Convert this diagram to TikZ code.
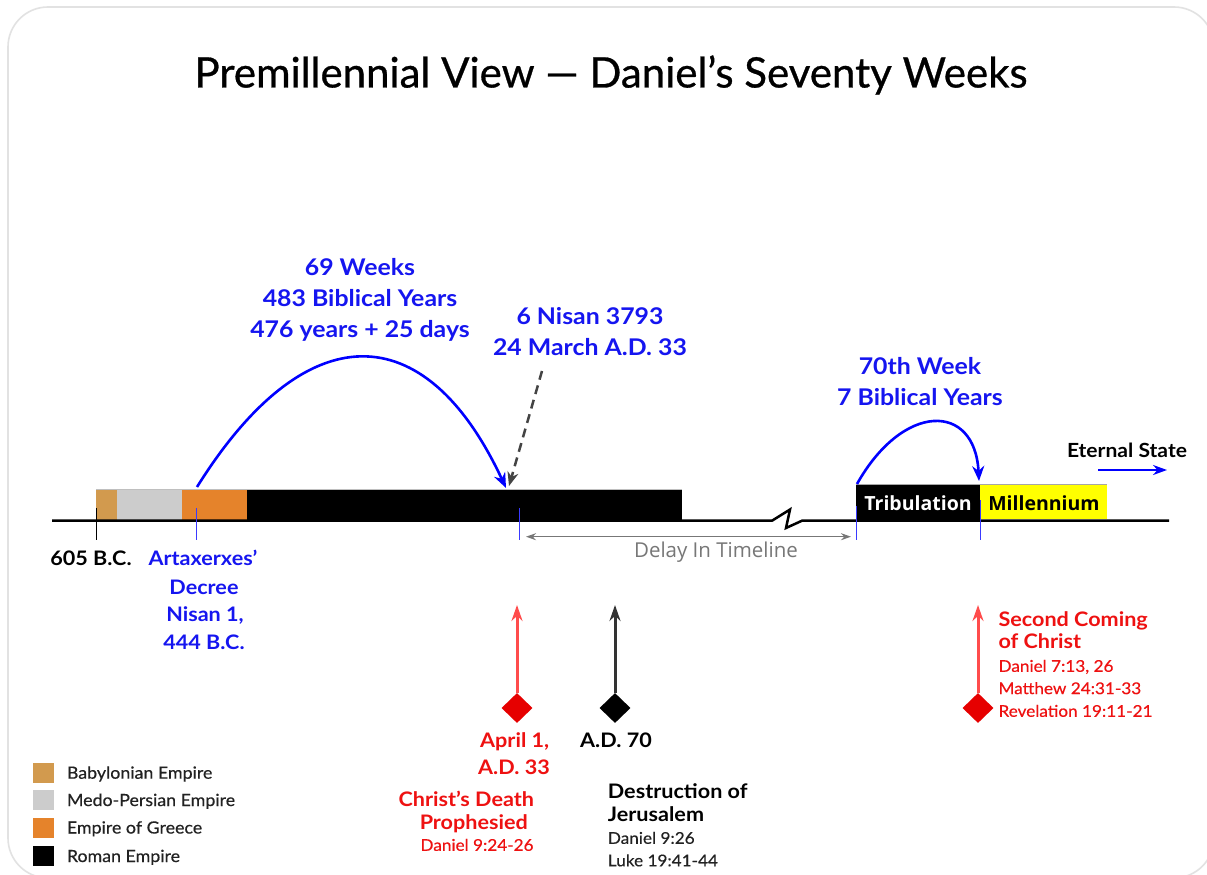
\documentclass[tikz,border=0pt]{standalone}
\usepackage{fontspec}
\setmainfont{Lato}[FakeStretch=1.08]
\newfontfamily\titlefont{Lato}[FakeBold=0.7]
\newfontfamily\refsfont{Lato}[FakeStretch=1.06,FakeBold=0.4]
\newfontfamily\osans{Open Sans}
\usetikzlibrary{arrows.meta,shapes.geometric}
\definecolor{babyl}{HTML}{D29A4E}
\definecolor{medo}{HTML}{CCCCCC}
\definecolor{greece}{HTML}{E5832B}
\definecolor{tblue}{HTML}{1515F0}
\definecolor{ablue}{HTML}{0000FF}
\definecolor{tickblue}{HTML}{3A3AFF}
\definecolor{tred}{HTML}{EE1111}
\definecolor{lred}{HTML}{FF4C4C}
\definecolor{dred}{HTML}{E60000}
\definecolor{bordergrey}{HTML}{E2E2E2}
\definecolor{delaygrey}{HTML}{777777}
\definecolor{dashgrey}{HTML}{444444}
\definecolor{darkarrow}{HTML}{333333}
\definecolor{legtext}{HTML}{222222}
\definecolor{mill}{HTML}{FFFF00}
\begin{document}
\begin{tikzpicture}[x=1pt,y=-1pt,
  bigblue/.style={font=\fontsize{23}{31}\selectfont\bfseries, text=tblue, text height=16.5pt, text depth=0pt, inner sep=0},
  lbl/.style={font=\fontsize{20}{27}\selectfont\bfseries, text height=14.3pt, text depth=0pt, inner sep=0},
  refs/.style={font=\refsfont\fontsize{16.2}{22}\selectfont, text height=11.6pt, text depth=0pt, inner sep=0},
  tick/.style={line width=1},
  bigarrow/.style={line width=2.6, -{Stealth[length=15pt,width=12pt]}},
  uparrow/.style={line width=3, -{Stealth[length=16pt,width=11pt]}},
  diam/.style={diamond, minimum width=31pt, minimum height=30pt, inner sep=0, draw=none},
  legbox/.style={minimum width=21pt, minimum height=20pt, inner sep=0},
  legtxt/.style={font=\refsfont\fontsize{16.8}{18}\selectfont, text=legtext, anchor=west, text height=12pt, text depth=0pt, inner sep=0},
  boxtxt/.style={font=\osans\fontsize{19.5}{22}\selectfont\bfseries, text height=14pt, text depth=0pt, inner sep=0},
]
\useasboundingbox (0,0) rectangle (1207,875);
\fill[white] (0,0) rectangle (1207,875);
\begin{scope}
  \clip (0,0) rectangle (1207,875);
  \draw[bordergrey, line width=1.6, rounded corners=40pt] (8,7) rectangle (1214,878);
\end{scope}

% title
\node[font=\titlefont\fontsize{42}{50}\selectfont, text height=30pt, text depth=0pt, inner sep=0] (title) at (611,72.5) {Premillennial View — Daniel’s Seventy Weeks};

% empire bars
\fill[babyl] (96,489) rectangle (117,520);
\fill[medo] (117,489) rectangle (182,520);
\fill[greece] (182,489) rectangle (247,520);
\fill[black] (247,489) rectangle (682,520);
\draw[black!25, line width=0.6] (96,489) -- (682,489);

% tribulation / millennium
\fill[black] (856,484) rectangle (980,520);
\fill[mill] (980,484) rectangle (1107,519);
\draw[black!35, line width=0.6] (856,484) -- (1107,484);
\node[boxtxt, text=white] (trib) at (918,503.7) {Tribulation};
\node[boxtxt, text=black] (millen) at (1044,503.7) {Millennium};

% axis with break
\draw[line width=2.5] (52,520.7) -- (772,520.7) -- (790,509.5) -- (786,528) -- (802,520.7) -- (1169,520.7);

% ticks
\draw[tick, black] (96.7,508) -- (96.7,540);
\draw[tick, tickblue] (196,508) -- (196,540);
\draw[tick, tickblue] (519,508) -- (519,540);
\draw[tick, tickblue] (856,506) -- (856,540);
\draw[tick, tickblue] (980,500) -- (980,540);

% delay arrow
\coordinate (dl) at (526,536.7);
\coordinate (dr) at (851,536.7);
\draw[delaygrey, line width=1.5, {Stealth[length=10pt,width=7pt]}-{Stealth[length=10pt,width=7pt]}] (dl) -- (dr);
\node[font=\osans\fontsize{20.5}{24}\selectfont, text=delaygrey, text height=14.6pt, text depth=0pt, inner sep=0] (delay) at (716,550.5) {Delay In Timeline};

% arcs
\coordinate (a1) at (197,487);
\coordinate (a2) at (506,488);
\draw[ablue, bigarrow] (a1) .. controls (305,314) and (425,314) .. (a2);
\coordinate (b1) at (857,484);
\coordinate (b2) at (979,481);
\draw[ablue, bigarrow] (b1) .. controls (903,402) and (975,402) .. (b2);

% dashed arrow
\coordinate (ds) at (542,371);
\coordinate (de) at (509,486);
\draw[dashgrey, line width=2.5, dash pattern=on 9pt off 6pt, -{Stealth[length=14pt,width=11pt]}] (ds) -- (de);

% eternal state
\node[font=\fontsize{19.5}{22}\selectfont\bfseries, text height=14pt, text depth=0pt, inner sep=0] (eternal) at (1127,450.5) {Eternal State};
\coordinate (es1) at (1098,470);
\coordinate (es2) at (1167,470);
\draw[ablue, line width=2.2, -{Stealth[length=14pt,width=10pt]}] (es1) -- (es2);

% blue upper labels
\node[bigblue] (w1) at (360,267) {69 Weeks};
\node[bigblue] (w2) at (360,298) {483 Biblical Years};
\node[bigblue] (w3) at (360,329.5) {476 years + 25 days};
\node[bigblue] (n1) at (590,316) {6 Nisan 3793};
\node[bigblue] (n2) at (590,347) {24 March A.D. 33};
\node[bigblue] (s1) at (920,366.7) {70th Week};
\node[bigblue] (s2) at (920,397.5) {7 Biblical Years};

% lower-left labels
\node[lbl] (bc605) at (91,558.7) {605 B.C.};
\node[lbl, text=tblue] (ax1) at (203,558.7) {Artaxerxes’};
\node[lbl, text=tblue] (ax2) at (204,587) {Decree};
\node[lbl, text=tblue] (ax3) at (205,614.5) {Nisan 1,};
\node[lbl, text=tblue] (ax4) at (204,642) {444 B.C.};

% diamonds and up arrows
\node[diam, fill=dred] (d1) at (517,708) {};
\coordinate (t1) at (517,605);
\draw[lred, uparrow] (d1.north) -- (t1);
\node[diam, fill=black] (d2) at (615,708) {};
\coordinate (t2) at (615,605);
\draw[darkarrow, uparrow] (d2.north) -- (t2);
\node[diam, fill=dred] (d3) at (978,708) {};
\coordinate (t3) at (978,605);
\draw[lred, uparrow] (d3.north) -- (t3);

% Christ's death labels
\node[lbl, text=tred] (ap1) at (514.7,740.5) {April 1,};
\node[lbl, text=tred] (ap2) at (514,767.5) {A.D. 33};
\node[lbl, text=tred] (cd1) at (466.3,799.7) {Christ’s Death};
\node[lbl, text=tred] (cd2) at (473.8,822) {Prophesied};
\node[refs, text=tred] (cd3) at (477,845) {Daniel 9:24-26};

% destruction labels
\node[lbl] (ad70) at (616,740.5) {A.D. 70};
\node[lbl, anchor=west] (dj1) at (607.7,791) {Destruction of};
\node[lbl, anchor=west] (dj2) at (607.7,814) {Jerusalem};
\node[refs, anchor=west, text=legtext] (dj3) at (607.7,838) {Daniel 9:26};
\node[refs, anchor=west, text=legtext] (dj4) at (607.7,860.5) {Luke 19:41-44};

% second coming labels
\node[lbl, anchor=west, text=tred] (sc1) at (998.3,619) {Second Coming};
\node[lbl, anchor=west, text=tred] (sc2) at (998.3,641.7) {of Christ};
\node[refs, anchor=west, text=tred] (sc3) at (998.3,666) {Daniel 7:13, 26};
\node[refs, anchor=west, text=tred] (sc4) at (998.3,688.3) {Matthew 24:31-33};
\node[refs, anchor=west, text=tred] (sc5) at (998.3,711) {Revelation 19:11-21};

% legend
\node[legbox, fill=babyl] (lg1) at (43.8,772.7) {};
\node[legbox, fill=medo] (lg2) at (43.8,800) {};
\node[legbox, fill=greece] (lg3) at (43.8,827.5) {};
\node[legbox, fill=black] (lg4) at (43.8,856) {};
\node[legtxt] (lt1) at (66.7,772.7) {Babylonian Empire};
\node[legtxt] (lt2) at (66.7,800) {Medo-Persian Empire};
\node[legtxt] (lt3) at (66.7,827.5) {Empire of Greece};
\node[legtxt] (lt4) at (66.7,856) {Roman Empire};
\end{tikzpicture}
\end{document}
